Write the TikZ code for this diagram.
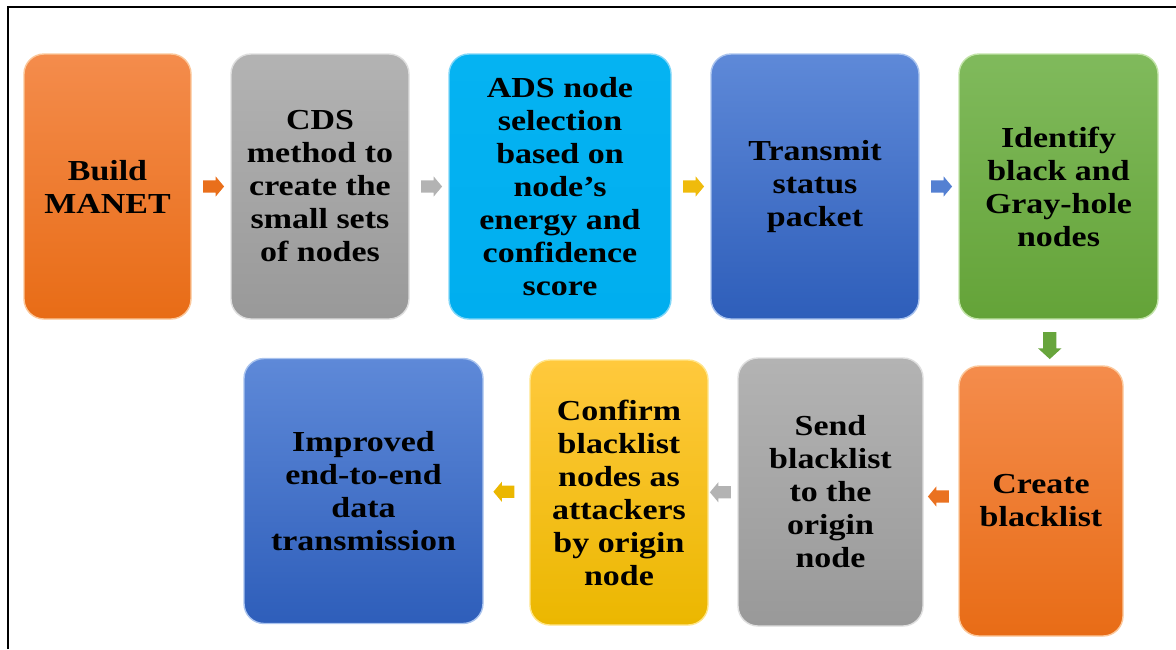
\documentclass[tikz,border=0pt]{standalone}
\usepackage{fontspec}
\newfontfamily\boxfont[FakeStretch=1.17]{Liberation Serif}
\usetikzlibrary{shapes.arrows,calc}
\definecolor{orT}{HTML}{F48C4C}\definecolor{orB}{HTML}{E86C16}\definecolor{orL}{HTML}{FBC79A}
\definecolor{grT}{HTML}{B3B3B3}\definecolor{grB}{HTML}{999999}\definecolor{grL}{HTML}{DEDEDE}
\definecolor{cyT}{HTML}{05B3F2}\definecolor{cyB}{HTML}{00AEEF}\definecolor{cyL}{HTML}{7FD6F8}
\definecolor{blT}{HTML}{5E89D8}\definecolor{blB}{HTML}{2E5EBA}\definecolor{blL}{HTML}{A9C3EE}
\definecolor{gnT}{HTML}{80BA5C}\definecolor{gnB}{HTML}{64A338}\definecolor{gnL}{HTML}{C2E3A8}
\definecolor{goT}{HTML}{FFC93D}\definecolor{goB}{HTML}{EBB700}\definecolor{goL}{HTML}{FFE58A}
\begin{document}
\begin{tikzpicture}[x=1pt,y=-1pt,
  box/.style={rounded corners=20pt, align=center, inner sep=0pt,
    font=\boxfont\bfseries\fontsize{29}{33}\selectfont, text=black, line width=1.4pt},
  orbox/.style={box, top color=orT, bottom color=orB, draw=orL},
  grbox/.style={box, top color=grT, bottom color=grB, draw=grL},
  cybox/.style={box, top color=cyT, bottom color=cyB, draw=cyL},
  blbox/.style={box, top color=blT, bottom color=blB, draw=blL},
  gnbox/.style={box, top color=gnT, bottom color=gnB, draw=gnL},
  gobox/.style={box, top color=goT, bottom color=goB, draw=goL},
  blk/.style={single arrow, draw=none, inner xsep=0pt, inner ysep=6pt,
    minimum height=21pt, single arrow head extend=4pt, single arrow tip angle=100},
  blkdown/.style={single arrow, draw=none, inner xsep=0pt, inner ysep=6.5pt,
    minimum height=27pt, single arrow head extend=5pt, single arrow tip angle=95, rotate=-90},
  frame/.style={line width=2pt, black}
]
\useasboundingbox (0,0) rectangle (1176,649);
\coordinate (fbl) at (8,649);
\coordinate (ftl) at (8,7);
\coordinate (ftr) at (1176,7);
\draw[frame] (fbl) -- (ftl) -- (ftr);

\node[orbox, minimum width=167pt, minimum height=265pt] (n1) at (107.5,186.5) {Build\\MANET};
\node[grbox, minimum width=178pt, minimum height=265pt] (n2) at (320,186.5) {CDS\\method to\\create the\\small sets\\of nodes};
\node[cybox, minimum width=222pt, minimum height=265pt] (n3) at (560,186.5) {ADS node\\selection\\based on\\node’s\\energy and\\confidence\\score};
\node[blbox, minimum width=208pt, minimum height=265pt] (n4) at (815,186.5) {Transmit\\status\\packet};
\node[gnbox, minimum width=199pt, minimum height=265pt] (n5) at (1058.5,186.5) {Identify\\black and\\Gray-hole\\nodes};
\node[orbox, minimum width=164pt, minimum height=270pt] (n6) at (1041,501) {Create\\blacklist};
\node[grbox, minimum width=185pt, minimum height=268pt] (n7) at (830.5,492) {Send\\blacklist\\to the\\origin\\node};
\node[gobox, minimum width=178pt, minimum height=265pt] (n8) at (619,492.5) {Confirm\\blacklist\\nodes as\\attackers\\by origin\\node};
\node[blbox, minimum width=239pt, minimum height=265pt] (n9) at (363.5,491) {Improved\\end-to-end\\data\\transmission};

\node[blk, fill=orB!90!orT] (a1) at ($(n1.east)!0.5!(n2.west)$) {};
\node[blk, fill=grT] (a2) at ($(n2.east)!0.5!(n3.west)$) {};
\node[blk, fill=goB!80!goT] (a3) at ($(n3.east)!0.5!(n4.west)$) {};
\node[blk, fill=blT!80!blB] (a4) at ($(n4.east)!0.5!(n5.west)$) {};
\node[blkdown, fill=gnB!90!gnT] (a5) at ($(n5.south)!0.5!(n6.north)$) {};
\node[blk, fill=orB!80!orT, rotate=180] (a6) at ($(n6.west)!0.5!(n7.east)$) {};
\node[blk, fill=grT, rotate=180] (a7) at ($(n7.west)!0.5!(n8.east)$) {};
\node[blk, fill=goB, rotate=180] (a8) at ($(n8.west)!0.5!(n9.east)$) {};
\end{tikzpicture}
\end{document}
